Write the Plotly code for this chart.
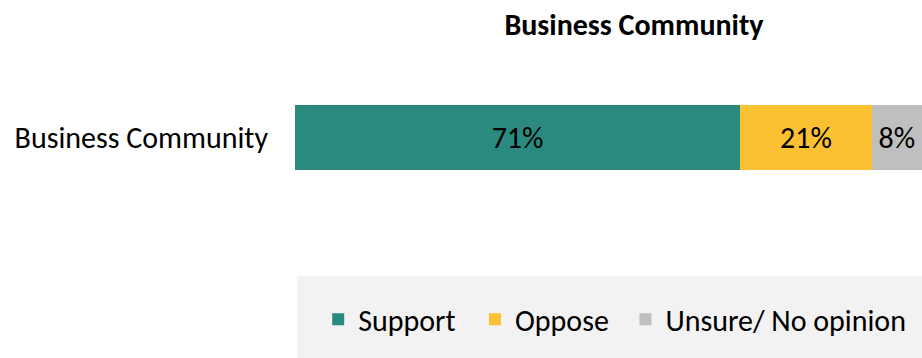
import plotly.graph_objects as go

# Survey responses for a single group
group = ["Business Community"]
responses = ["Support", "Oppose", "Unsure/ No opinion"]
shares = [71, 21, 8]
colors = ["#2B8A80", "#FBC132", "#BFBFBF"]

FONT = "Carlito, Lato, sans-serif"
SIZE = 30

# each response gets its own legend box so the entries can be spaced freely
legend_ids = ["legend", "legend2", "legend3"]
legend_x = [0.037, 0.287, 0.527]

fig = go.Figure()
for name, val, col, lid in zip(responses, shares, colors, legend_ids):
    fig.add_trace(go.Bar(
        y=group, x=[val], name=name, orientation="h",
        marker=dict(color=col, line=dict(width=0)),
        text=[f"{val}%"], textposition="inside", insidetextanchor="middle",
        textfont=dict(family=FONT, size=SIZE, color="#000000"),
        constraintext="none", width=0.565, legend=lid,
    ))

legend_style = dict(orientation="h", xanchor="left", y=-1.08, yanchor="middle",
                    bgcolor="rgba(0,0,0,0)",
                    font=dict(family=FONT, size=SIZE, color="#000000"))

fig.update_layout(
    barmode="stack",
    width=922, height=358,
    margin=dict(l=295, r=0, t=80, b=163),
    paper_bgcolor="white", plot_bgcolor="white",
    font=dict(family=FONT, color="#000000"),
    title=dict(text="<b>Business Community</b>", x=634 / 922, xanchor="center",
               y=1 - 24 / 358, yanchor="middle",
               font=dict(family=FONT, size=SIZE, color="#000000")),
    xaxis=dict(range=[0, 100], visible=False, fixedrange=True),
    yaxis=dict(range=[-0.5, 0.5], showgrid=False, zeroline=False, showline=False,
               ticks="", ticklabelstandoff=26,
               tickfont=dict(family=FONT, size=SIZE, color="#000000")),
    showlegend=True,
    legend=dict(x=legend_x[0], **legend_style),
    legend2=dict(x=legend_x[1], **legend_style),
    legend3=dict(x=legend_x[2], **legend_style),
    shapes=[dict(type="rect", xref="paper", yref="paper",
                 x0=0.003, x1=1.0, y0=-0.704, y1=-1.417,
                 fillcolor="#F2F2F2", line=dict(width=0), layer="below")],
)

fig.write_html("out.html")
